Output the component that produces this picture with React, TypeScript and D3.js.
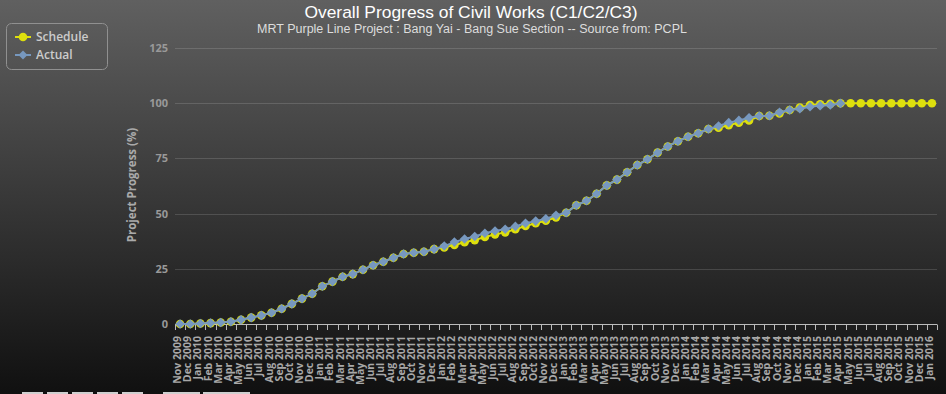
import React from "react";
import * as d3 from "d3";

const categories: string[] = [
  "Nov 2009", "Dec 2009",
  "Jan 2010", "Feb 2010", "Mar 2010", "Apr 2010", "May 2010", "Jun 2010", "Jul 2010", "Aug 2010", "Sep 2010", "Oct 2010", "Nov 2010", "Dec 2010",
  "Jan 2011", "Feb 2011", "Mar 2011", "Apr 2011", "May 2011", "Jun 2011", "Jul 2011", "Aug 2011", "Sep 2011", "Oct 2011", "Nov 2011", "Dec 2011",
  "Jan 2012", "Feb 2012", "Mar 2012", "Apr 2012", "May 2012", "Jun 2012", "Jul 2012", "Aug 2012", "Sep 2012", "Oct 2012", "Nov 2012", "Dec 2012",
  "Jan 2013", "Feb 2013", "Mar 2013", "Apr 2013", "May 2013", "Jun 2013", "Jul 2013", "Aug 2013", "Sep 2013", "Oct 2013", "Nov 2013", "Dec 2013",
  "Jan 2014", "Feb 2014", "Mar 2014", "Apr 2014", "May 2014", "Jun 2014", "Jul 2014", "Aug 2014", "Sep 2014", "Oct 2014", "Nov 2014", "Dec 2014",
  "Jan 2015", "Feb 2015", "Mar 2015", "Apr 2015", "May 2015", "Jun 2015", "Jul 2015", "Aug 2015", "Sep 2015", "Oct 2015", "Nov 2015", "Dec 2015",
  "Jan 2016",
];

const schedule: number[] = [
  0, 0, 0.2, 0.4, 0.7, 1.0, 1.9, 2.9, 3.9, 5.1, 6.9, 9.1, 11.5, 13.7, 17.1, 19.2, 21.4, 22.6, 24.6, 26.6, 28.2, 30.0, 31.7, 32.3, 32.7,
  33.9, 34.7, 35.8, 37.0, 38.0, 39.4, 40.6, 41.5, 42.9, 44.4, 45.6, 46.8, 48.3, 50.4, 53.8, 55.8, 59.0, 62.8, 65.4, 68.7, 72.0, 74.6,
  77.6, 80.4, 82.8, 84.8, 86.4, 88.3, 88.9, 90.0, 91.2, 92.2, 94.2, 94.3, 95.4, 96.9, 98.0, 99.2, 99.5, 99.7, 100,
  100, 100, 100, 100, 100, 100, 100, 100, 100,
];

const actual: number[] = [
  0, 0, 0.2, 0.4, 0.7, 1.0, 1.9, 2.9, 3.9, 5.1, 6.9, 9.1, 11.5, 13.7, 17.1, 19.2, 21.4, 22.6, 24.6, 26.6, 28.2, 30.0, 31.7, 32.3, 32.7,
  33.9, 35.3, 37.1, 38.5, 39.6, 41.1, 42.1, 42.9, 44.2, 45.6, 46.6, 47.7, 49.2, 50.4, 53.8, 55.8, 59.0, 62.8, 65.4, 68.7, 72.0, 74.6,
  77.6, 80.4, 82.8, 84.8, 86.4, 88.3, 89.7, 91.2, 92.2, 93.4, 94.2, 94.3, 95.9, 96.9, 97.5, 98.4, 98.9, 99.2, 99.9,
];

const yTicks: number[] = [0, 25, 50, 75, 100, 125];

const W = 946;
const H = 394;
const FONT = "'Open Sans', 'DejaVu Sans', sans-serif";
const TITLE_FONT = "'Liberation Sans', Arial, sans-serif";
const YELLOW = "#DDDF0D";
const BLUE = "#7798BF";

export default function App() {
  const x = d3.scaleBand<string>().domain(categories).range([175, 937]).padding(0);
  const y = d3.scaleLinear().domain([0, 125]).range([324, 48]);
  const cx = (i: number) => (x(categories[i]) as number) + x.bandwidth() / 2;

  const line = d3
    .line<number>()
    .x((_, i) => cx(i))
    .y((d) => y(d));

  const diamond = (px: number, py: number, r: number) =>
    `M${px},${py - r}L${px + r},${py}L${px},${py + r}L${px - r},${py}Z`;

  const boundaries = categories.map((c) => x(c) as number).concat([x.range()[1]]);

  const bottomBars = [
    [22, 43], [47, 68], [72, 93], [97, 118], [122, 143], [163, 200], [203, 250],
  ];

  return (
    <svg
      width={W}
      height={H}
      style={{ position: "absolute", left: 0, top: 0, display: "block" }}
      fontFamily={FONT}
    >
      <defs>
        <linearGradient id="bg" x1="0" y1="0" x2="0" y2="1">
          <stop offset="0" stopColor="rgb(96,96,96)" />
          <stop offset="1" stopColor="rgb(16,16,16)" />
        </linearGradient>
      </defs>
      <rect x={0} y={0} width={W} height={H} fill="url(#bg)" />

      <text x={471} y={17.5} textAnchor="middle" fill="#fff" fontSize={17.4} fontFamily={TITLE_FONT}>
        Overall Progress of Civil Works (C1/C2/C3)
      </text>
      <text x={472} y={32.5} textAnchor="middle" fill="#ddd" fontSize={12.5} fontFamily={TITLE_FONT}>
        MRT Purple Line Project : Bang Yai - Bang Sue Section -- Source from: PCPL
      </text>

      {/* grid + y labels */}
      {yTicks.map((t) => (
        <g key={t}>
          {t !== 0 && (
            <line
              x1={175}
              x2={937}
              y1={Math.round(y(t)) + 0.5}
              y2={Math.round(y(t)) + 0.5}
              stroke="rgba(255,255,255,0.14)"
              strokeWidth={1}
            />
          )}
          <text
            x={168}
            y={y(t) + 4}
            textAnchor="end"
            fill="#999"
            fontSize={11}
            fontWeight="bold"
          >
            {t}
          </text>
        </g>
      ))}

      <text
        transform={`translate(136,185) rotate(-90)`}
        textAnchor="middle"
        fill="#aaa"
        fontSize={11.5}
        fontWeight="bold"
      >
        Project Progress (%)
      </text>

      {/* x axis */}
      <line x1={175} x2={937} y1={324.5} y2={324.5} stroke="#bbb" strokeWidth={1} />
      {boundaries.map((b, i) => (
        <line
          key={i}
          x1={Math.round(b) + 0.5}
          x2={Math.round(b) + 0.5}
          y1={324.5}
          y2={330}
          stroke="#bbb"
          strokeWidth={1}
        />
      ))}
      {categories.map((c, i) => (
        <text
          key={c}
          transform={`translate(${cx(i) + 1},336) rotate(-90)`}
          textAnchor="end"
          fill="#a8a8a8"
          fontSize={10.5}
          fontWeight="bold"
        >
          {c}
        </text>
      ))}

      {/* schedule series */}
      <path d={line(schedule) || ""} fill="none" stroke={YELLOW} strokeWidth={2} />
      {schedule.map((v, i) => (
        <circle key={i} cx={cx(i)} cy={y(v)} r={4.3} fill={YELLOW} />
      ))}

      {/* actual series */}
      <path d={line(actual) || ""} fill="none" stroke={BLUE} strokeWidth={2} />
      {actual.map((v, i) => (
        <path key={i} d={diamond(cx(i), y(v), 4.8)} fill={BLUE} />
      ))}

      {/* legend */}
      <rect x={6.5} y={23.5} width={101} height={46} rx={5} ry={5} fill="none" stroke="#909090" strokeWidth={1} />
      <line x1={15} x2={31} y1={37} y2={37} stroke={YELLOW} strokeWidth={2} />
      <circle cx={23} cy={37} r={4.3} fill={YELLOW} />
      <text x={36} y={41} fill="#ccc" fontSize={12} fontWeight="600">
        Schedule
      </text>
      <line x1={15} x2={31} y1={55} y2={55} stroke={BLUE} strokeWidth={2} />
      <path d={diamond(23, 55, 4.5)} fill={BLUE} />
      <text x={36} y={59} fill="#ccc" fontSize={12} fontWeight="600">
        Actual
      </text>

      {bottomBars.map(([a, b], i) => (
        <rect key={i} x={a} y={392} width={b - a} height={2} fill="#cfcfcf" />
      ))}
    </svg>
  );
}
